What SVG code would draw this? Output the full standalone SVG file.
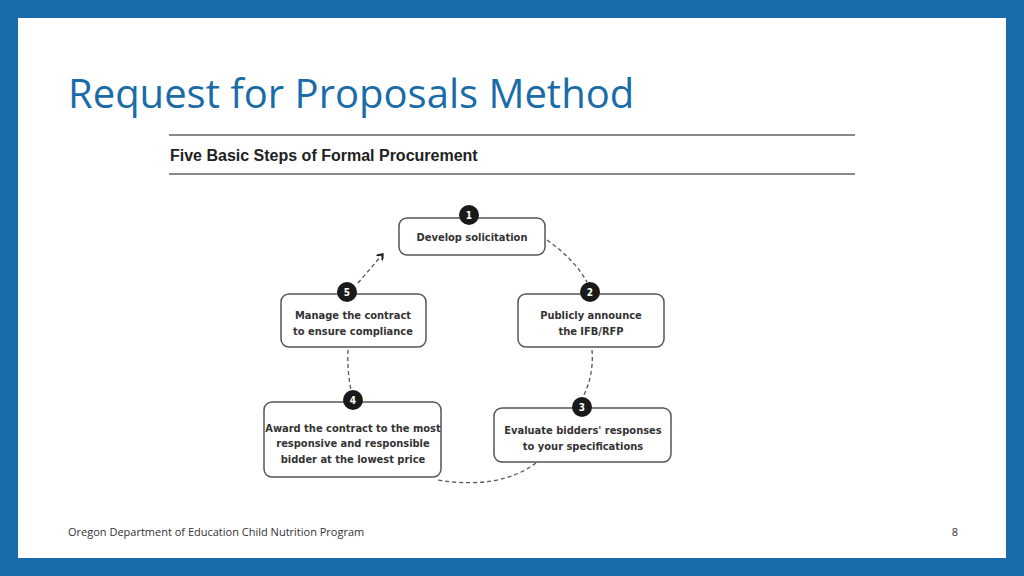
<svg xmlns="http://www.w3.org/2000/svg" width="1024" height="576" viewBox="0 0 1024 576">
<style>
.box{fill:#fff;stroke:#555;stroke-width:1.5}
.num{fill:#1a1a1a}
.nt{fill:#fff;font:bold 10px "DejaVu Sans Condensed","Liberation Sans",sans-serif;text-anchor:middle}
.bt{fill:#333;font:bold 11px "DejaVu Sans Condensed","Liberation Sans",sans-serif;text-anchor:middle}
.dash{fill:none;stroke:#555;stroke-width:1.3;stroke-dasharray:4 3}
</style>
<defs><marker id="ar" markerWidth="8" markerHeight="8" refX="4" refY="4" orient="auto" markerUnits="userSpaceOnUse"><path d="M0,0 L5,4 L0,8" fill="none" stroke="#222" stroke-width="2"/></marker></defs>
<rect width="1024" height="576" fill="#1a6ca8"/>
<rect x="18" y="18" width="988" height="540" fill="#fff"/>
<text x="68" y="108" font-family="Open Sans, Liberation Sans, sans-serif" font-size="40" fill="#1a6ca8">Request for Proposals Method</text>
<line x1="169" y1="135" x2="855" y2="135" stroke="#888" stroke-width="2"/>
<line x1="169" y1="174" x2="855" y2="174" stroke="#888" stroke-width="2"/>
<text x="170" y="161" font-family="Liberation Sans, sans-serif" font-weight="bold" font-size="16" fill="#222">Five Basic Steps of Formal Procurement</text>
<g id="connectors">
<path class="dash" d="M547,240 Q575,260 587,282"/>
<path class="dash" d="M592,350 Q594,375 583,397"/>
<path class="dash" d="M536,463 Q500,490 437,480"/>
<path class="dash" d="M348,350 Q347,370 351,390"/>
<path class="dash" d="M358,283 L382,255" marker-end="url(#ar)"/>
</g>
<g id="n1"><rect class="box" x="399" y="218" width="146" height="37" rx="8"/><circle class="num" cx="469" cy="215" r="10"/><text class="nt" x="469" y="219">1</text><text class="bt" x="472" y="241">Develop solicitation</text></g>
<g id="n2"><rect class="box" x="518" y="294" width="146" height="53" rx="8"/><circle class="num" cx="590" cy="292" r="10"/><text class="nt" x="590" y="296">2</text><text class="bt" x="591" y="319">Publicly announce</text><text class="bt" x="591" y="335">the IFB/RFP</text></g>
<g id="n3"><rect class="box" x="494" y="408" width="177" height="54" rx="8"/><circle class="num" cx="582" cy="407" r="10"/><text class="nt" x="582" y="411">3</text><text class="bt" x="583" y="434">Evaluate bidders' responses</text><text class="bt" x="583" y="450">to your specifications</text></g>
<g id="n4"><rect class="box" x="264" y="402" width="177" height="75" rx="8"/><circle class="num" cx="353" cy="400" r="10"/><text class="nt" x="353" y="404">4</text><text class="bt" x="353" y="432">Award the contract to the most</text><text class="bt" x="353" y="447">responsive and responsible</text><text class="bt" x="353" y="463">bidder at the lowest price</text></g>
<g id="n5"><rect class="box" x="281" y="294" width="145" height="53" rx="8"/><circle class="num" cx="347" cy="292" r="10"/><text class="nt" x="347" y="296">5</text><text class="bt" x="353" y="319">Manage the contract</text><text class="bt" x="353" y="335">to ensure compliance</text></g>
<text x="68" y="536" font-family="Open Sans, Liberation Sans, sans-serif" font-size="11" fill="#333">Oregon Department of Education Child Nutrition Program</text>
<text x="958" y="536" font-family="Open Sans, Liberation Sans, sans-serif" font-size="11" fill="#333" text-anchor="end">8</text>
</svg>
